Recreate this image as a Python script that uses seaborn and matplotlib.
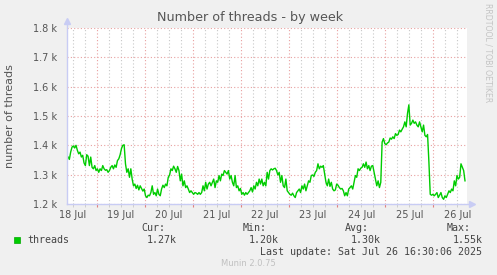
import numpy as np
import pandas as pd
import matplotlib
matplotlib.use("Agg")
import matplotlib.pyplot as plt
import matplotlib.dates as mdates
from matplotlib.patches import Rectangle
import seaborn as sns

# ---------------- data ----------------
title = "Number of threads - by week"
ylabel = "number of threads"
series_name = "threads"
start_time = "2025-07-18 09:02"
end_time = "2025-07-26 15:48"

threads = [
    1356, 1361, 1352, 1377, 1394, 1398, 1391, 1400, 1383, 1371, 1377, 1360, 1366, 1340, 1331, 1368,
    1363, 1331, 1360, 1325, 1320, 1331, 1314, 1320, 1308, 1320, 1314, 1331, 1320, 1315, 1317, 1308,
    1314, 1325, 1331, 1320, 1333, 1325, 1348, 1354, 1368, 1389, 1400, 1402, 1337, 1308, 1320, 1291,
    1320, 1285, 1262, 1268, 1253, 1264, 1248, 1262, 1253, 1244,
    1251, 1228, 1222, 1230, 1228, 1239, 1262, 1233, 1239, 1228, 1251, 1233, 1228, 1251, 1264, 1256,
    1268, 1262, 1291, 1299, 1320, 1314, 1329, 1320, 1308, 1328, 1314, 1279, 1302, 1262, 1279, 1256,
    1262, 1251, 1239, 1245, 1239, 1233, 1239, 1237, 1233, 1239, 1233, 1239, 1262, 1245, 1274, 1251,
    1268, 1274, 1262, 1274, 1285, 1256, 1279, 1274, 1297, 1279, 1302, 1297,
    1314, 1308, 1302, 1314, 1285, 1297, 1274, 1262, 1297, 1256, 1262, 1245, 1253, 1233, 1239, 1230,
    1239, 1233, 1239, 1245, 1256, 1241, 1262, 1251, 1274, 1262, 1285, 1268, 1285, 1262, 1274, 1262,
    1308, 1285, 1314, 1320, 1316, 1320, 1322, 1314, 1299, 1308, 1274, 1297, 1262, 1256, 1285, 1245,
    1239, 1233, 1230, 1237, 1228, 1222, 1239, 1245, 1251, 1239, 1262, 1251,
    1268, 1245, 1262, 1279, 1274, 1297, 1299, 1294, 1308, 1314, 1337, 1320, 1329, 1325, 1331, 1302,
    1274, 1262, 1285, 1260, 1274, 1251, 1245, 1248, 1268, 1264, 1256, 1251, 1253, 1245, 1228, 1239,
    1228, 1251, 1256, 1262, 1251, 1274, 1297, 1291, 1320, 1314, 1322, 1325, 1337, 1325, 1343, 1320,
    1331, 1314, 1329, 1331, 1308, 1285, 1262, 1279, 1256, 1274, 1411, 1423,
    1406, 1402, 1408, 1411, 1425, 1421, 1429, 1423, 1440, 1434, 1437, 1452, 1446, 1455, 1463, 1480,
    1463, 1509, 1538, 1469, 1475, 1486, 1475, 1480, 1469, 1463, 1480, 1463, 1446, 1469, 1434, 1429,
    1437, 1343, 1233, 1230, 1233, 1228, 1233, 1239, 1222, 1230, 1239, 1222, 1216, 1228, 1222, 1233,
    1245, 1239, 1251, 1245, 1279, 1262, 1297, 1285, 1291, 1337, 1325, 1314, 1279,
]

y_ticks = [1200, 1300, 1400, 1500, 1600, 1700, 1800]
y_tick_labels = ["1.2 k", "1.3 k", "1.4 k", "1.5 k", "1.6 k", "1.7 k", "1.8 k"]
stat_names = ["Cur:", "Min:", "Avg:", "Max:"]
stat_values = ["1.27k", "1.20k", "1.30k", "1.55k"]
last_update = "Last update: Sat Jul 26 16:30:06 2025"
footer = "Munin 2.0.75"
side_text = "RRDTOOL / TOBI OETIKER"
x_min = "2025-07-18 09:12"
x_max = "2025-07-26 16:48"

df = pd.DataFrame({
    "time": pd.date_range(start_time, end_time, periods=len(threads)),
    "threads": threads,
})

# ---------------- figure ----------------
W, H = 497, 275
fig = plt.figure(figsize=(W / 100, H / 100), dpi=100, facecolor="#F0F0F0")
ax = fig.add_axes([67 / W, 1 - 204 / H, 400 / W, 176 / H])
ax.set_facecolor("white")

sns.lineplot(data=df, x="time", y="threads", ax=ax, color="#00CC00", linewidth=1.0, zorder=5)

ax.set_xlim(pd.Timestamp(x_min), pd.Timestamp(x_max))
ax.set_ylim(y_ticks[0], y_ticks[-1])

# grids
ax.xaxis.set_major_locator(mdates.HourLocator(byhour=[0]))
ax.xaxis.set_minor_locator(mdates.HourLocator(byhour=[6, 12, 18]))
ax.xaxis.set_major_formatter(plt.NullFormatter())

def minor_fmt(x, pos):
    d = mdates.num2date(x)
    return d.strftime("%d %b") if d.hour == 12 else ""

ax.xaxis.set_minor_formatter(plt.FuncFormatter(minor_fmt))
ax.set_yticks(y_ticks)
ax.set_yticklabels(y_tick_labels)

ax.grid(which="major", axis="both", color="#E8A0A0", linestyle=(0, (1, 2)), linewidth=0.8)
ax.grid(which="minor", axis="x", color="#C8C8C8", linestyle=(0, (1, 2)), linewidth=0.8)
ax.set_axisbelow(True)

ax.tick_params(axis="y", which="major", length=0, pad=7, labelsize=7, labelcolor="#555555")
ax.tick_params(axis="x", which="major", length=2, direction="out", color="#E08080", pad=2)
ax.tick_params(axis="x", which="minor", length=2, direction="out", color="#C8C8C8", pad=2,
               labelsize=7, labelcolor="#555555")

for s in ax.spines.values():
    s.set_visible(False)

axis_col = "#C8CCF4"
ax.plot([0, 0], [0, 1.035], transform=ax.transAxes, color=axis_col, lw=1, clip_on=False, zorder=6)
ax.plot([0, 1.01], [0, 0], transform=ax.transAxes, color=axis_col, lw=1, clip_on=False, zorder=6)
ax.plot([0], [1.04], transform=ax.transAxes, marker="^", color=axis_col, markersize=4, clip_on=False)
ax.plot([1.012], [0], transform=ax.transAxes, marker=">", color=axis_col, markersize=4, clip_on=False)

ax.set_xlabel("")
ax.set_ylabel("")

# texts
fig.text(250 / W, 1 - 18 / H, title, ha="center", va="center", fontsize=9.2,
         color="#555555", family="DejaVu Sans")
fig.text(10 / W, 1 - 116 / H, ylabel, ha="center", va="center", rotation=90, fontsize=8,
         color="#555555", family="DejaVu Sans")
fig.text(488 / W, 1 - 53 / H, side_text, ha="center", va="center", rotation=270, fontsize=5.6,
         color="#C4C4C4", family="DejaVu Sans")

mono = dict(family="DejaVu Sans Mono", fontsize=7.2, color="#444444", va="center")
fig.patches.append(Rectangle((14 / W, 1 - 243 / H), 6 / W, 6 / H, transform=fig.transFigure,
                             facecolor="#00CC00", edgecolor="#00AA00", lw=0.5))
fig.text(27 / W, 1 - 240 / H, series_name, ha="left", **mono)
name_x = [141, 243, 345, 447]
for nx, nm, val in zip(name_x, stat_names, stat_values):
    fig.text(nx / W, 1 - 228 / H, nm, ha="left", **mono)
    fig.text((nx + 6) / W, 1 - 240 / H, val, ha="left", **mono)
fig.text(482 / W, 1 - 252 / H, last_update, ha="right", **mono)
fig.text(248 / W, 1 - 264 / H, footer, ha="center", va="center", fontsize=6,
         color="#C0C0C0", family="DejaVu Sans")

fig.savefig("out.png", dpi=100, facecolor=fig.get_facecolor())
